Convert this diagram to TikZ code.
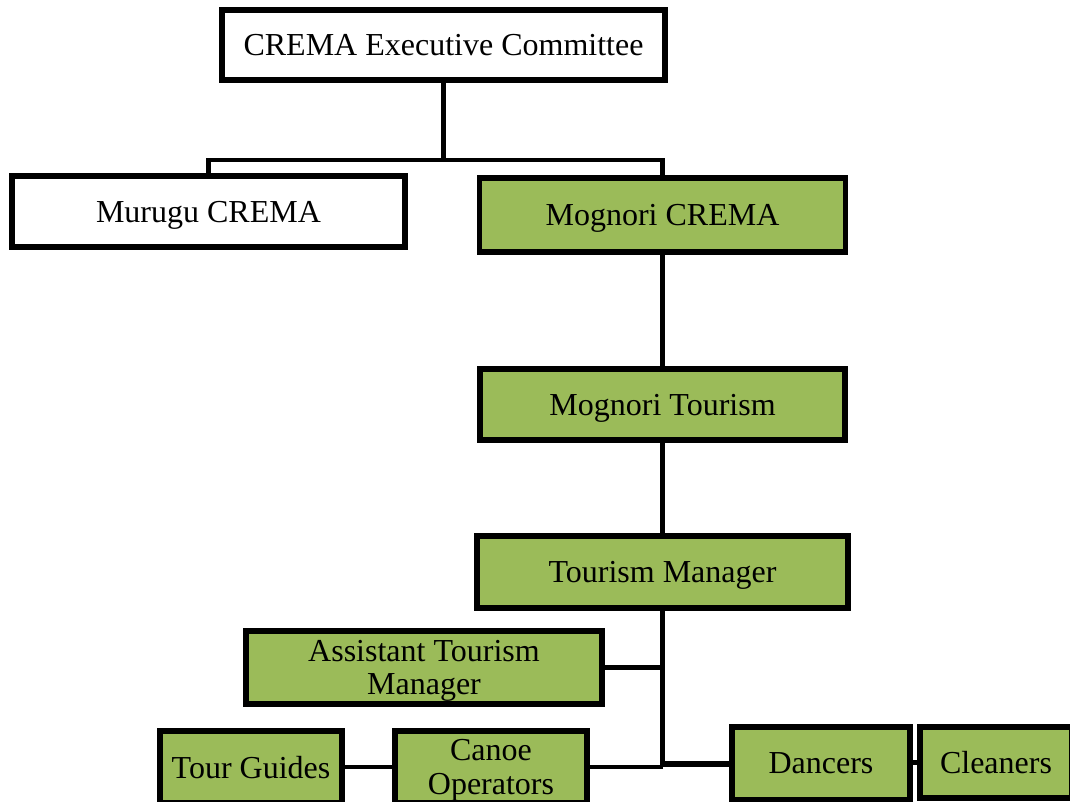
\documentclass[tikz,border=0pt]{standalone}
\usepackage{fontspec}
\setmainfont{Liberation Serif}
\definecolor{boxgreen}{HTML}{9BBB59}
\begin{document}
\begin{tikzpicture}[x=0.75pt,y=-0.75pt,
  box/.style={draw=black,line width=3.8pt,rectangle,inner sep=0pt,outer sep=0pt,
    font=\fontsize{24}{25}\selectfont,align=center,text depth=0pt},
  wbox/.style={box,fill=white},
  gbox/.style={box,fill=boxgreen},
  conn/.style={line width=3.2pt}]
\useasboundingbox (0,0) rectangle (1070,802);
\node[wbox,minimum width=443*0.75pt,minimum height=70*0.75pt] (top) at (443.5,45) {CREMA Executive Committee};
\node[wbox,minimum width=393*0.75pt,minimum height=71*0.75pt] (murugu) at (208.5,211.5) {Murugu CREMA};
\node[gbox,minimum width=366*0.75pt,minimum height=74*0.75pt] (mcrema) at (662.5,215) {Mognori CREMA};
\node[gbox,minimum width=365*0.75pt,minimum height=71*0.75pt] (mtour) at (662.5,404.5) {Mognori Tourism};
\node[gbox,minimum width=371*0.75pt,minimum height=72*0.75pt] (tmgr) at (662.5,572) {Tourism Manager};
\node[gbox,minimum width=356*0.75pt,minimum height=73*0.75pt] (asst) at (424,667.5) {Assistant Tourism\\Manager};
\node[gbox,minimum width=182*0.75pt,minimum height=72*0.75pt] (tg) at (251,767) {Tour Guides};
\node[gbox,minimum width=192*0.75pt,minimum height=72*0.75pt] (canoe) at (491,767) {Canoe\\Operators};
\node[gbox,minimum width=178*0.75pt,minimum height=73*0.75pt] (dancers) at (821,763.5) {Dancers};
\node[gbox,minimum width=152*0.75pt,minimum height=71*0.75pt] (cleaners) at (996,762.5) {Cleaners};
\coordinate (j1) at (443.5,160);
\coordinate (j2) at (662.5,765);
\draw[conn] (top.south) -- (j1);
\draw[conn] (murugu.north) |- (j1) -| (mcrema.north);
\draw[conn] (mcrema.south) -- (mtour.north);
\draw[conn] (mtour.south) -- (tmgr.north);
\draw[conn] (tmgr.south) -- (j2);
\draw[conn] (asst.east) -- (asst.east -| j2);
\draw[conn] (canoe.east) -- (canoe.east -| j2);
\draw[conn] (tg.east) -- (canoe.west);
\draw[line width=4.5pt] (j2 |- dancers.west) -- (dancers.west);
\draw[conn] (dancers.east |- cleaners.west) -- (cleaners.west);
\end{tikzpicture}
\end{document}
